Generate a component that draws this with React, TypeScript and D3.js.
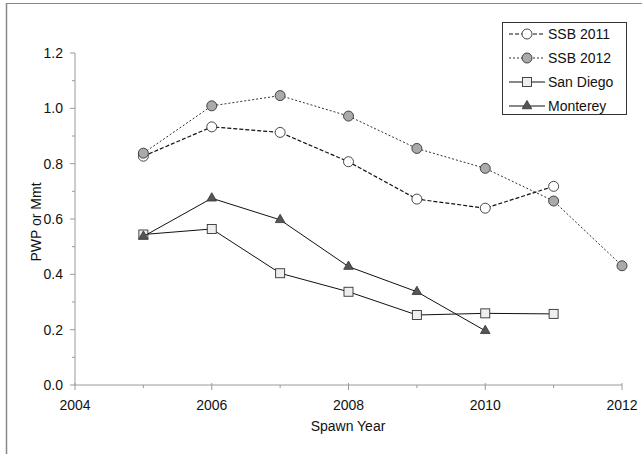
import React, { useEffect, useRef } from "react";
import * as d3 from "d3";

const years = [2005, 2006, 2007, 2008, 2009, 2010, 2011, 2012];
const ssb2011 = [0.827, 0.933, 0.913, 0.807, 0.672, 0.639, 0.718, null];
const ssb2012 = [0.838, 1.009, 1.046, 0.972, 0.855, 0.783, 0.665, 0.431];
const sanDiego = [0.544, 0.564, 0.404, 0.337, 0.253, 0.259, 0.257, null];
const monterey = [0.537, 0.675, 0.597, 0.428, 0.337, 0.196, null, null];
const xTicks = [2004, 2006, 2008, 2010, 2012];
const yTicks = [0, 0.2, 0.4, 0.6, 0.8, 1.0, 1.2];
const legendLabels = ["SSB 2011", "SSB 2012", "San Diego", "Monterey"];

const W = 642, H = 454;
const FONT = "'Liberation Sans', Arial, Helvetica, sans-serif";
const FS = 14;

export default function App() {
  const ref = useRef<SVGSVGElement>(null);
  useEffect(() => {
    const svg = d3.select(ref.current);
    svg.selectAll("*").remove();
    const x = d3.scaleLinear().domain([2004, 2012]).range([75, 622]);
    const y = d3.scaleLinear().domain([0, 1.2]).range([385, 53]);
    const axisColor = "#9a9a9a";

    // frame
    svg.append("line").attr("x1", 6).attr("x2", W).attr("y1", 3.5).attr("y2", 3.5).attr("stroke", "#888").attr("stroke-width", 1);
    svg.append("line").attr("x1", 6.5).attr("x2", 6.5).attr("y1", 3).attr("y2", H).attr("stroke", "#888").attr("stroke-width", 1.5);

    // axes
    const g = svg.append("g");
    g.append("line").attr("x1", x(2004)).attr("x2", x(2012)).attr("y1", y(0)).attr("y2", y(0)).attr("stroke", axisColor);
    g.append("line").attr("x1", x(2004)).attr("x2", x(2004)).attr("y1", y(0)).attr("y2", y(1.2)).attr("stroke", axisColor);
    d3.range(0, 13).forEach((i) => {
      const v = i / 10;
      const major = i % 2 === 0;
      g.append("line").attr("x1", x(2004) - (major ? 5 : 3)).attr("x2", x(2004)).attr("y1", y(v)).attr("y2", y(v)).attr("stroke", axisColor);
    });
    yTicks.forEach((v) => {
      g.append("text").attr("x", 63).attr("y", y(v)).attr("dy", "0.35em").attr("text-anchor", "end")
        .attr("font-family", FONT).attr("font-size", FS).attr("fill", "#111").text(d3.format(".1f")(v));
    });
    d3.range(2004, 2013).forEach((yr) => {
      const major = (yr - 2004) % 2 === 0;
      g.append("line").attr("x1", x(yr)).attr("x2", x(yr)).attr("y1", y(0) - (major ? 2 : 0)).attr("y2", y(0) + (major ? 5 : 3)).attr("stroke", axisColor);
    });
    xTicks.forEach((yr) => {
      g.append("text").attr("x", x(yr)).attr("y", 410).attr("text-anchor", "middle")
        .attr("font-family", FONT).attr("font-size", FS).attr("fill", "#111").text(String(yr));
    });
    g.append("text").attr("x", 348).attr("y", 431).attr("text-anchor", "middle")
      .attr("font-family", FONT).attr("font-size", FS).attr("fill", "#111").text("Spawn Year");
    g.append("text").attr("transform", `translate(41,222) rotate(-90)`).attr("text-anchor", "middle")
      .attr("font-family", FONT).attr("font-size", FS).attr("fill", "#111").text("PWP or Mmt");

    const series = [
      { vals: ssb2011, dash: "4,2", stroke: "#111", sw: 1.2, marker: "circle", fill: "#fff" },
      { vals: ssb2012, dash: "2,2", stroke: "#333", sw: 1, marker: "circle", fill: "#aaa" },
      { vals: sanDiego, dash: null, stroke: "#111", sw: 1, marker: "square", fill: "#eee" },
      { vals: monterey, dash: null, stroke: "#111", sw: 1, marker: "triangle", fill: "#555" },
    ];

    const drawMarker = (sel: any, type: string, cx: number, cy: number, fill: string) => {
      if (type === "circle") {
        sel.append("circle").attr("cx", cx).attr("cy", cy).attr("r", 5).attr("fill", fill).attr("stroke", "#333").attr("stroke-width", 0.9);
      } else if (type === "square") {
        sel.append("rect").attr("x", cx - 4.5).attr("y", cy - 4.5).attr("width", 9).attr("height", 9).attr("fill", fill).attr("stroke", "#333").attr("stroke-width", 0.9);
      } else {
        const sym = d3.symbol().type(d3.symbolTriangle).size(40);
        sel.append("path").attr("d", sym()).attr("transform", `translate(${cx},${cy})`).attr("fill", fill).attr("stroke", "#333").attr("stroke-width", 0.8);
      }
    };

    series.forEach((s) => {
      const pts = years.map((yr, i) => [yr, s.vals[i]] as [number, number | null]).filter((p) => p[1] !== null) as [number, number][];
      const line = d3.line<[number, number]>().x((d) => x(d[0])).y((d) => y(d[1]));
      const p = svg.append("path").attr("d", line(pts)).attr("fill", "none").attr("stroke", s.stroke).attr("stroke-width", s.sw);
      if (s.dash) p.attr("stroke-dasharray", s.dash);
      const mg = svg.append("g");
      pts.forEach((d) => drawMarker(mg, s.marker, x(d[0]), y(d[1]), s.fill));
    });

    // legend
    const lg = svg.append("g");
    lg.append("rect").attr("x", 502.5).attr("y", 22.5).attr("width", 124).attr("height", 92).attr("fill", "#fff").attr("stroke", "#333").attr("stroke-width", 1);
    legendLabels.forEach((lab, i) => {
      const s = series[i];
      const ly = 34 + i * 24;
      const l = lg.append("line").attr("x1", 509).attr("x2", 545).attr("y1", ly).attr("y2", ly).attr("stroke", s.stroke).attr("stroke-width", s.sw);
      if (s.dash) l.attr("stroke-dasharray", s.dash);
      drawMarker(lg, s.marker, 527, ly, s.fill);
      lg.append("text").attr("x", 548).attr("y", ly).attr("dy", "0.35em")
        .attr("font-family", FONT).attr("font-size", FS).attr("fill", "#111").text(lab);
    });
  }, []);
  return (
    <svg ref={ref} width={W} height={H} style={{ position: "absolute", left: 0, top: 0, background: "#fff" }} />
  );
}
